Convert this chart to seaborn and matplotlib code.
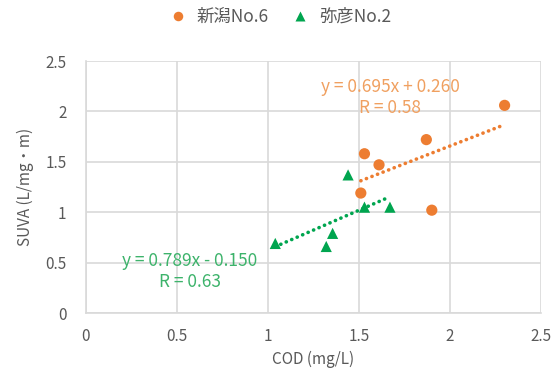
import numpy as np
import pandas as pd
import seaborn as sns
import matplotlib
matplotlib.use("Agg")
import matplotlib.pyplot as plt

sns.set_theme(style="white")
plt.rcParams['font.family'] = ['Noto Sans CJK JP', 'DejaVu Sans']

# Data
niigata_cod = [2.30, 1.87, 1.53, 1.61, 1.51, 1.90]
niigata_suva = [2.06, 1.72, 1.58, 1.47, 1.19, 1.02]
yahiko_cod = [1.44, 1.53, 1.67, 1.355, 1.32, 1.04]
yahiko_suva = [1.37, 1.05, 1.05, 0.79, 0.66, 0.69]
series_names = ["新潟No.6", "弥彦No.2"]
eq_texts = ["y = 0.695x + 0.260\nR = 0.58", "y = 0.789x - 0.150\nR = 0.63"]
x_ticks = [0, 0.5, 1, 1.5, 2, 2.5]
y_ticks = [0, 0.5, 1, 1.5, 2, 2.5]

orange = "#ED7D31"
green = "#00A54F"
grey_txt = "#595959"

df = pd.concat([
    pd.DataFrame({"COD": niigata_cod, "SUVA": niigata_suva, "site": series_names[0]}),
    pd.DataFrame({"COD": yahiko_cod, "SUVA": yahiko_suva, "site": series_names[1]}),
])

fig = plt.figure(figsize=(5.55, 3.8), dpi=100)
ax = fig.add_axes([86/555, 67/380, (541-86)/555, (313-61)/380])

dot = dict(linestyle=(0, (0.05, 1.6)), linewidth=2.6, dash_capstyle="round")
sns.regplot(data=df[df.site == series_names[0]], x="COD", y="SUVA", scatter=False, ci=None,
            ax=ax, line_kws=dict(color=orange, **dot))
sns.regplot(data=df[df.site == series_names[1]], x="COD", y="SUVA", scatter=False, ci=None,
            ax=ax, line_kws=dict(color=green, **dot))
sns.scatterplot(data=df, x="COD", y="SUVA", hue="site", style="site",
                palette={series_names[0]: orange, series_names[1]: green},
                markers={series_names[0]: "o", series_names[1]: "^"},
                s=65, edgecolor="none", ax=ax, legend=True, zorder=5)

ax.set_xlim(0, 2.5)
ax.set_ylim(0, 2.5)
ax.set_xticks(x_ticks)
ax.set_yticks(y_ticks)
ax.set_xticklabels([f"{t:g}" for t in x_ticks])
ax.set_yticklabels([f"{t:g}" for t in y_ticks])
ax.grid(True, color="#D9D9D9", linewidth=1.2)
ax.set_axisbelow(True)
for s in ["top", "right"]:
    ax.spines[s].set_visible(False)
for s in ["left", "bottom"]:
    ax.spines[s].set_color("#D9D9D9")
    ax.spines[s].set_linewidth(1.2)
ax.tick_params(axis="x", colors=grey_txt, labelsize=11, length=0, pad=11)
ax.tick_params(axis="y", colors=grey_txt, labelsize=11, length=0, pad=14)
ax.set_xlabel("COD (mg/L)", color=grey_txt, fontsize=11, labelpad=4)
ax.set_ylabel("SUVA (L/mg・m)", color=grey_txt, fontsize=11, labelpad=8)

ax.text(1.67, 2.135, eq_texts[0], color="#F0A060", fontsize=12.5, ha="center", va="center",
        linespacing=1.2)
ax.text(0.57, 0.415, eq_texts[1], color="#3DB36B", fontsize=12.5, ha="center", va="center",
        linespacing=1.2)

h, l = ax.get_legend_handles_labels()
ax.get_legend().remove()
fig.legend(h, l, loc="center", bbox_to_anchor=(0.497, 1 - 17/380), ncol=2, frameon=False,
           fontsize=12.5, labelcolor=grey_txt, handletextpad=0.1, columnspacing=0.8,
           markerscale=0.85)

fig.savefig("out.png", dpi=100)
